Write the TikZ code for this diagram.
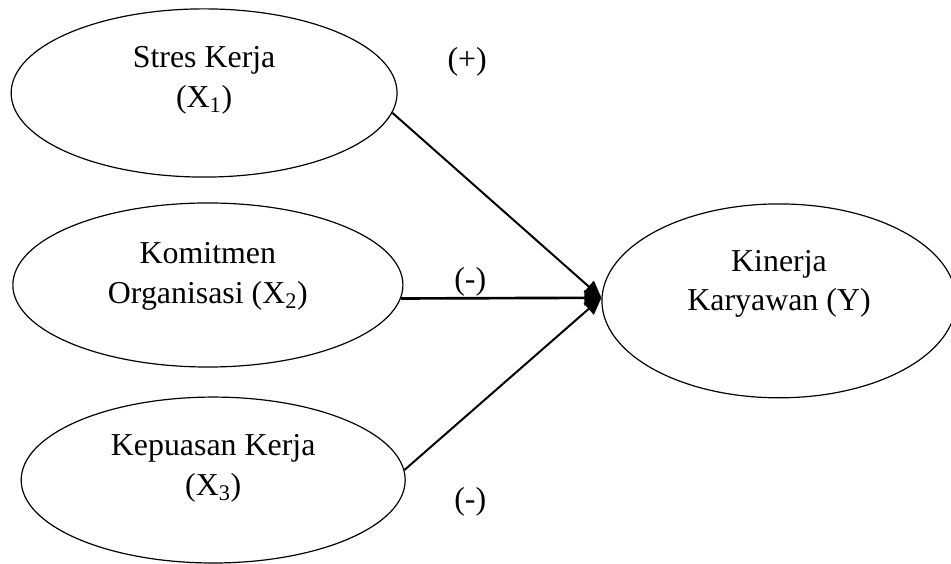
\documentclass[tikz,border=0pt]{standalone}
\usepackage{fontspec}
\setmainfont{Liberation Serif}
\usetikzlibrary{shapes.geometric}
\usetikzlibrary{arrows.meta}

\begin{document}
\begin{tikzpicture}[
	var/.style={draw,ellipse,line width=0.9pt,inner sep=0pt},
	txt/.style={align=center,font=\fontsize{24}{30}\selectfont},
	link/.style={line width=1.5pt,-{Triangle[length=4.5mm,width=4mm]}}]
	\useasboundingbox (0,0) rectangle (25.16,14.92);
	\node[var,minimum width=10.21cm,minimum height=4.45cm] (s1) at (5.40,12.46) {};
	\node[var,minimum width=10.32cm,minimum height=4.34cm] (s2) at (5.50,7.38) {};
	\node[var,minimum width=10.16cm,minimum height=4.39cm] (s3) at (5.64,2.22) {};
	\node[var,minimum width=9.37cm,minimum height=5.13cm] (Y) at (20.61,6.96) {};
	\node[txt] (s1t) at ([yshift=0.33cm]s1.center) {Stres Kerja\\(X\textsubscript{1})};
	\node[txt] (s2t) at ([yshift=0.22cm]s2.center) {Komitmen\\Organisasi (X\textsubscript{2})};
	\node[txt] (s3t) at ([yshift=0.3cm]s3.center) {Kepuasan Kerja\\(X\textsubscript{3})};
	\node[txt] (Yt) at ([yshift=0.45cm]Y.center) {Kinerja\\Karyawan (Y)};
	\node[txt] (p1) at (12.36,13.28) {(+)};
	\node[txt] (p2) at (12.44,7.46) {(-)};
	\node[txt] (p3) at (12.44,1.64) {(-)};
	\draw[link] (s1.-6) -- (Y.179);
	\draw[link,line width=2pt] (s2.-4) -- (Y.179);
	\draw[link] (s3.3) -- (Y.179);
\end{tikzpicture}
\end{document}
